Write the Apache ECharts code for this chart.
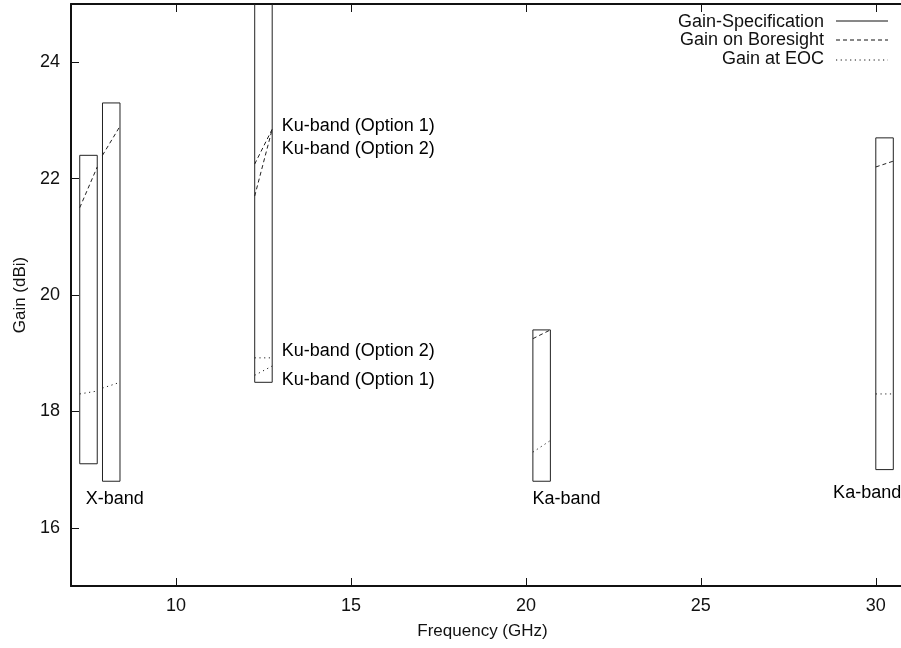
<!DOCTYPE html>
<html>
<head>
<meta charset="utf-8">
<script src="https://cdn.jsdelivr.net/npm/echarts@6/dist/echarts.min.js"></script>
<style>
html,body{margin:0;padding:0;background:#fff;}
#chart{width:901px;height:648px;}
</style>
</head>
<body>
<div id="chart"></div>
<script>
// ---- Data ----
// Gain-Specification boxes (frequency range, gain range)
const specX1 = [7.25, 7.9, 12.25, 20.2, 30.0];
const specX2 = [7.75, 8.4, 12.75, 20.7, 30.5];
const specLow = [17.1, 16.8, 18.5, 16.8, 17.0];
const specHigh = [22.4, 23.3, 26.0, 19.4, 22.7];

// Gain on Boresight segments
const boreX1 = [7.25, 7.9, 12.25, 12.25, 20.2, 30.0];
const boreX2 = [7.75, 8.4, 12.75, 12.75, 20.7, 30.5];
const boreY1 = [21.5, 22.4, 22.25, 21.7, 19.25, 22.2];
const boreY2 = [22.2, 22.9, 22.85, 22.85, 19.4, 22.3];

// Gain at EOC segments
const eocX1 = [7.25, 7.9, 12.25, 12.25, 20.2, 30.0];
const eocX2 = [7.75, 8.4, 12.75, 12.75, 20.7, 30.5];
const eocY1 = [18.3, 18.4, 18.92, 18.62, 17.3, 18.3];
const eocY2 = [18.35, 18.5, 18.92, 18.78, 17.5, 18.3];

// Text labels
const labelText = ['X-band', 'Ku-band (Option 1)', 'Ku-band (Option 2)', 'Ku-band (Option 2)', 'Ku-band (Option 1)', 'Ka-band', 'Ka-band'];
const labelX = [7.42, 13.02, 13.02, 13.02, 13.02, 20.19, 28.78];
const labelY = [16.5, 22.91, 22.51, 19.03, 18.54, 16.49, 16.6];

// Axes
const xTicks = [10, 15, 20, 25, 30];
const yTicks = [16, 18, 20, 22, 24];
const xMin = 7, xMax = 30.72, yMin = 15, yMax = 25;

const legendNames = ['Gain-Specification', 'Gain on Boresight', 'Gain at EOC'];

// ---- Build ----
const FONT = 'Liberation Sans, Arial, sans-serif';
const INK = '#111';

const specData = specX1.map((x, i) => [x, specX2[i], specLow[i], specHigh[i]]);
const boreData = boreX1.map((x, i) => [x, boreX2[i], boreY1[i], boreY2[i]]);
const eocData = eocX1.map((x, i) => [x, eocX2[i], eocY1[i], eocY2[i]]);
const labelData = labelText.map((t, i) => ({ name: t, value: [labelX[i], labelY[i]] }));

function rectItem(params, api) {
  const p1 = api.coord([api.value(0), api.value(3)]);
  const p2 = api.coord([api.value(1), api.value(2)]);
  return {
    type: 'rect',
    shape: { x: p1[0], y: p1[1], width: p2[0] - p1[0], height: p2[1] - p1[1] },
    style: { fill: 'none', stroke: '#222', lineWidth: 1 }
  };
}
function segItem(dash) {
  return function (params, api) {
    const p1 = api.coord([api.value(0), api.value(2)]);
    const p2 = api.coord([api.value(1), api.value(3)]);
    return {
      type: 'line',
      shape: { x1: p1[0], y1: p1[1], x2: p2[0], y2: p2[1] },
      style: { stroke: '#222', lineWidth: 1, lineDash: dash }
    };
  };
}

const dashBore = [4, 3];
const dashEoc = [1.2, 3.5];

const chart = echarts.init(document.getElementById('chart'), null, { renderer: 'canvas' });
const option = {
  animation: false,
  backgroundColor: '#fff',
  textStyle: { fontFamily: FONT },
  grid: { left: 71, top: 4, right: 0, bottom: 62 },
  xAxis: [{
    type: 'value', min: xMin, max: xMax, position: 'bottom',
    name: 'Frequency (GHz)', nameLocation: 'middle', nameGap: 37,
    nameTextStyle: { fontFamily: FONT, fontSize: 17, color: INK, padding: [0, 7, 0, 0] },
    axisLine: { show: true, lineStyle: { color: INK, width: 2 } },
    axisTick: { show: true, inside: true, length: 8, lineStyle: { color: INK, width: 1 }, customValues: xTicks },
    axisLabel: { show: true, margin: 11, fontFamily: FONT, fontSize: 18, color: INK, customValues: xTicks },
    splitLine: { show: false }
  }, {
    type: 'value', min: xMin, max: xMax, position: 'top',
    axisLine: { show: true, lineStyle: { color: INK, width: 2 } },
    axisTick: { show: true, inside: true, length: 8, lineStyle: { color: INK, width: 1 }, customValues: xTicks },
    axisLabel: { show: false },
    splitLine: { show: false }
  }],
  yAxis: [{
    type: 'value', min: yMin, max: yMax,
    name: 'Gain (dBi)', nameLocation: 'middle', nameGap: 41, nameRotate: 90,
    nameTextStyle: { fontFamily: FONT, fontSize: 17, color: INK },
    axisLine: { show: true, lineStyle: { color: INK, width: 2 } },
    axisTick: { show: true, inside: true, length: 8, lineStyle: { color: INK, width: 1 }, customValues: yTicks },
    axisLabel: { show: true, margin: 11, fontFamily: FONT, fontSize: 18, color: INK, customValues: yTicks },
    splitLine: { show: false }
  }],
  series: [{
    name: legendNames[0], type: 'custom', clip: true, renderItem: rectItem,
    encode: { x: [0, 1], y: [2, 3] }, data: specData, silent: true
  }, {
    name: legendNames[1], type: 'custom', clip: true, renderItem: segItem(dashBore),
    encode: { x: [0, 1], y: [2, 3] }, data: boreData, silent: true
  }, {
    name: legendNames[2], type: 'custom', clip: true, renderItem: segItem(dashEoc),
    encode: { x: [0, 1], y: [2, 3] }, data: eocData, silent: true
  }, {
    name: 'labels', type: 'scatter', symbolSize: 0.01,
    itemStyle: { color: '#fff', opacity: 0 },
    label: { show: true, position: 'right', distance: 0, formatter: '{b}', fontFamily: FONT, fontSize: 18, color: '#000', opacity: 1 },
    data: labelData, silent: true
  }],
  graphic: [
    { type: 'text', style: { text: legendNames[0], x: 824, y: 22, align: 'right', verticalAlign: 'middle', font: '18px ' + FONT, fill: INK } },
    { type: 'line', shape: { x1: 836, y1: 21, x2: 888, y2: 21 }, style: { stroke: INK, lineWidth: 1 } },
    { type: 'text', style: { text: legendNames[1], x: 824, y: 40, align: 'right', verticalAlign: 'middle', font: '18px ' + FONT, fill: INK } },
    { type: 'line', shape: { x1: 836, y1: 40, x2: 888, y2: 40 }, style: { stroke: INK, lineWidth: 1, lineDash: dashBore } },
    { type: 'text', style: { text: legendNames[2], x: 824, y: 59, align: 'right', verticalAlign: 'middle', font: '18px ' + FONT, fill: INK } },
    { type: 'line', shape: { x1: 836, y1: 60, x2: 888, y2: 60 }, style: { stroke: INK, lineWidth: 1, lineDash: dashEoc } }
  ]
};
chart.setOption(option);
</script>
</body>
</html>
